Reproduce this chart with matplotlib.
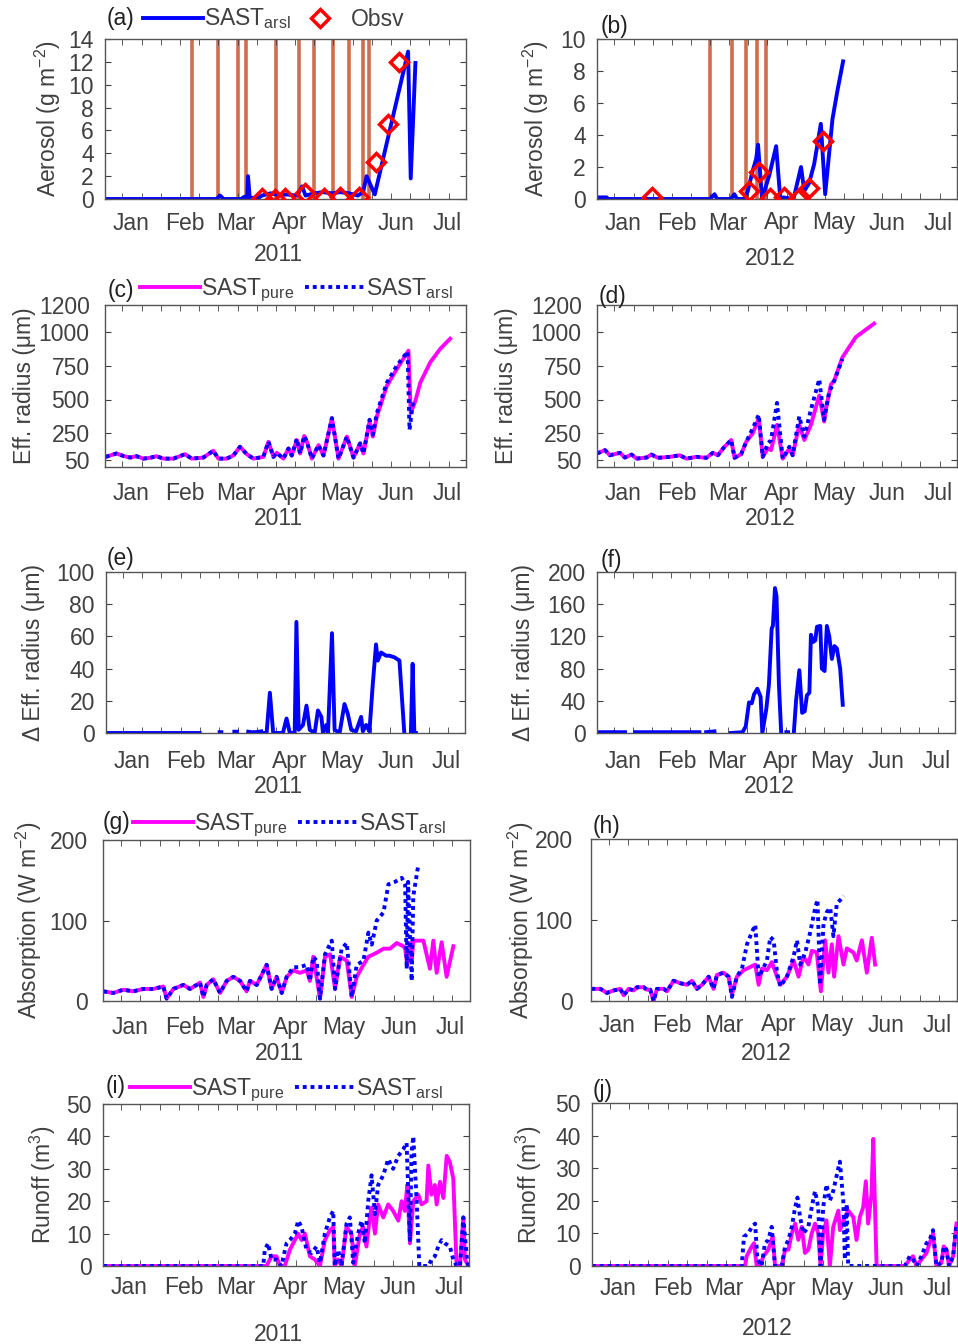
import numpy as np
import matplotlib
matplotlib.use('Agg')
import matplotlib.pyplot as plt

plt.rcParams['font.family'] = ['Liberation Sans', 'DejaVu Sans']
plt.rcParams['mathtext.fontset'] = 'custom'
plt.rcParams['mathtext.rm'] = 'Liberation Sans'
plt.rcParams['mathtext.default'] = 'regular'

nan = np.nan

# x axis is day of year (Jan 1 = 1)
months = ['Jan', 'Feb', 'Mar', 'Apr', 'May', 'Jun', 'Jul']
month_mid = [15, 46, 75, 106, 136, 167, 196]

# (a) aerosol 2011
a_arsl_day = [0, 60, 64, 66, 68, 78, 80, 81.5, 82, 83, 88, 90, 95, 100, 104, 110, 113, 115, 120, 125,
              130, 135, 140, 145, 148, 150, 154.7, 173.8, 175.3, 178]
a_arsl_val = [0, 0, 0, 0.3, 0, 0, 0.2, 0, 2.0, 0.1, 0.1, 0.3, 0.5, 0.3, 0.4, 0.3, 1.1, 0.3, 0.5, 0.6,
              0.5, 0.6, 0.5, 0.3, 0.6, 2.0, 0.4, 12.9, 1.8, 11.9]
a_obs_day = [89.8, 97.4, 103.1, 114.6, 125.5, 134.7, 145.7, 155.3, 162.3, 168.6]
a_obs_val = [0.1, 0.0, 0.1, 0.5, 0.1, 0.2, 0.2, 3.2, 6.6, 12.0]
a_event_day = [49.7, 64.9, 76.4, 80.6, 98.0, 111.3, 119.8, 130.8, 140.0, 148.0, 151.5]

# (b) aerosol 2012
b_arsl_day = [0, 5.5, 6.5, 65, 67.6, 69, 77, 79, 80.5, 84.8, 86.7, 89.6, 91.5, 92.6, 94.9, 99.1, 103,
              105.4, 107, 113, 117.3, 119.2, 122, 124.9, 128.7, 131.2, 135.4, 138.3, 141.5]
b_arsl_val = [0.1, 0.1, 0, 0, 0.3, 0, 0, 0.3, 0, 0, 0.5, 1.8, 2.5, 3.4, 0, 1.5, 3.3, 0, 0.1, 0,
              2.0, 0.5, 1.0, 2.2, 4.7, 0.3, 5.0, 6.8, 8.6]
b_obs_day = [31.7, 87.3, 93.4, 99.7, 107.7, 115.3, 122.0, 130.1]
b_obs_val = [0.1, 0.5, 1.7, 0.05, 0.1, 0.0, 0.7, 3.6]
b_event_day = [65.1, 77.5, 85.8, 91.9, 97.2]

# (c) effective radius 2011
c_pure_day = [0.4, 6.6, 10.5, 14.3, 18.1, 21.9, 25.8, 29.6, 33.4, 39.2, 45.9, 49.7, 56.4, 62.1, 65.0,
              69.8, 73.6, 77.4, 81.3, 85.1, 90.8, 93.7, 96.6, 98.5, 102.3, 105.2, 107.1, 110.0, 111.9,
              114.2, 115.7, 118.6, 122.4, 125.3, 130.1, 133.9, 138.7, 142.5, 146.3, 148.2, 151.7,
              153.6, 155.9, 161.6, 167.3, 174.0, 175.3, 177.9, 180.8, 186.5, 192.2, 197.9]
c_pure_val = [75, 100, 82, 70, 80, 62, 68, 80, 62, 62, 95, 62, 70, 120, 62, 62, 85, 150, 95, 62,
              75, 187, 75, 105, 62, 137, 85, 200, 100, 230, 190, 62, 162, 85, 362, 62, 225, 70, 175, 100,
              337, 225, 375, 600, 725, 862, 400, 487, 625, 775, 875, 950]
c_arsl_day = [0.4, 6.6, 10.5, 14.3, 18.1, 21.9, 25.8, 29.6, 33.4, 39.2, 45.9, 49.7, 56.4, 62.1, 65.0,
              69.8, 73.6, 77.4, 81.3, 85.1, 90.8, 93.7, 96.6, 98.5, 102.3, 105.2, 107.1, 110.0, 111.9,
              114.2, 115.7, 118.6, 122.4, 125.3, 130.1, 133.9, 138.7, 142.5, 146.3, 148.2, 151.7,
              153.6, 155.9, 161.6, 167.3, 173.5, 174.6, 176.8]
c_arsl_val = [75, 100, 82, 70, 80, 62, 68, 80, 62, 62, 95, 62, 70, 120, 62, 62, 85, 150, 95, 62,
              75, 187, 75, 105, 62, 137, 85, 210, 100, 230, 190, 62, 162, 85, 362, 62, 225, 70, 175, 100,
              350, 240, 400, 625, 750, 855, 275, 500]

# (d) effective radius 2012
d_pure_day = [0, 4.6, 7.4, 13.2, 16.0, 19.9, 22.7, 28.5, 31.3, 35.1, 41.8, 47.6, 51.4, 57.1, 62.9, 66.6,
              69.5, 73.3, 77.2, 79.1, 82.9, 85.8, 89.6, 93.0, 95.3, 98.2, 100.1, 103.5, 106.8, 110.6,
              112.5, 116.3, 119.2, 123.0, 127.8, 130.6, 131.6, 134.5, 136.4, 141.1, 148.8, 159.3]
d_pure_val = [100, 125, 87, 105, 70, 92, 62, 70, 92, 68, 75, 87, 62, 75, 68, 105, 87, 150, 200, 68,
              95, 187, 250, 362, 75, 137, 125, 312, 62, 137, 87, 312, 200, 312, 530, 337, 425, 612, 640,
              812, 962, 1062]
d_arsl_day = [0, 4.6, 7.4, 13.2, 16.0, 19.9, 22.7, 28.5, 31.3, 35.1, 41.8, 47.6, 51.4, 57.1, 62.9, 66.6,
              69.5, 73.3, 77.2, 79.1, 82.9, 85.8, 89.6, 93.0, 95.3, 98.2, 100.1, 103.5, 106.8, 110.6,
              112.5, 116.3, 119.2, 123.0, 127.8, 130.6, 133.4, 136.4, 141.1]
d_arsl_val = [100, 125, 87, 105, 70, 92, 62, 70, 92, 68, 75, 87, 62, 75, 68, 105, 87, 150, 200, 68,
              95, 187, 287, 387, 75, 175, 200, 475, 62, 150, 87, 375, 225, 425, 650, 350, 550, 637, 800]

# (e) delta effective radius 2011
e_arsl_day = [0, 54, nan, 65.5, 66.5, nan, 74, 75.5, nan, 82, 84, nan, 86, 89.5, nan, 90.5, 92.6, 94.5,
              96.4, 102, 104.1, 106.0, 108.8, 109.8, 111.1, 113.6, 115.6, 117.5, 120.3, 122.2, 124.2,
              125.1, 127.0, 128.0, 130.3, 131.8, 134.7, 137.5, 139.4, 141.4, 144.2, 147.1, 148.1, 150.0,
              151.9, 153.8, 155.7, 156.7, 158.6, 161.5, 163.4, 166.3, 169.2, 172.0, nan, 175.8, 176.8,
              177.8, 178.7]
e_arsl_val = [0, 0, nan, 0.5, 0.5, nan, 0.8, 0.8, nan, 0.8, 0.5, nan, 0.5, 1, nan, 0, 0, 25, 0, 0,
              9, 0, 0, 69, 2, 5, 17, 2, 0, 14, 10, 0, 5, 0, 62, 2, 0, 18, 12, 2,
              1, 10, 1, 5, 1, 30, 55, 45, 50, 48, 48, 47, 45, 0, nan, 0, 43, 0, 0]

# (f) delta effective radius 2012
f_arsl_day = [0, 8.6, nan, 10.5, 16.2, nan, 22.0, 59.2, nan, 63.1, 67.9, nan, 77.4, 84.1, 86.0, 87.9,
              89.5, 90.8, 92.7, 94.6, 95.6, 97.9, 99.4, 101.0, 101.7, 102.9, 103.8, 105.2, 106.5, nan,
              109.5, 110.5, nan, 113.8, 115.1, 117.0, 118.6, 120.1, 121.4, 122.8, 123.7, 124.9, 126.2,
              127.2, 129.1, 130.0, 131.6, 132.9, 134.3, 135.8, 137.3, 138.7, 140.6, 142.1]
f_arsl_val = [1, 1, nan, 1, 1, nan, 1, 1, nan, 1, 2, nan, 0, 1, 8, 38, 37, 48, 55, 45,
              0, 30, 60, 130, 133, 180, 170, 60, 0, nan, 1, 1, nan, 0, 40, 78, 25, 27, 47, 50,
              122, 113, 115, 132, 133, 80, 77, 133, 120, 92, 108, 105, 80, 35]

# (g) absorption 2011
g_pure_day = [0.2, 5.8, 11.5, 17.1, 22.7, 28.4, 34.0, 35.9, 39.7, 45.3, 49.1, 52.8, 54.7, 56.6, 58.5,
              62.2, 66.0, 69.8, 73.5, 77.3, 81.0, 82.9, 86.7, 92.3, 95.1, 97.9, 100.8, 103.6, 107.3,
              111.1, 114.9, 116.7, 118.6, 122.4, 125.2, 128.1, 130.9, 133.7, 137.5, 140.3, 143.1, 146.9,
              149.7, 154.4, 158.2, 161.9, 165.7, 169.4, 170.4, 171.7, 173.2, 174.1, 175.0, 176.0, 180.7,
              184.4, 186.3, 188.2, 191.0, 193.8, 197.6]
g_pure_val = [12, 10, 14, 12, 15, 15, 18, 3, 15, 20, 15, 20, 23, 5, 20, 27, 10, 25, 30, 25,
              12, 25, 20, 45, 15, 30, 10, 30, 38, 35, 38, 25, 55, 3, 55, 58, 15, 55, 50, 5,
              30, 45, 55, 60, 65, 65, 72, 68, 65, 45, 72, 50, 75, 75, 75, 40, 75, 35, 73, 30, 68]
g_arsl_day = [0.2, 5.8, 11.5, 17.1, 22.7, 28.4, 34.0, 35.9, 39.7, 45.3, 49.1, 52.8, 54.7, 56.6, 58.5,
              62.2, 66.0, 69.8, 73.5, 77.3, 81.0, 82.9, 86.7, 92.3, 95.1, 97.9, 100.8, 103.6, 107.3,
              111.1, 114.9, 116.7, 118.6, 120.5, 122.4, 125.2, 129.0, 130.9, 134.6, 137.5, 140.3, 143.1,
              146.9, 149.7, 151.6, 154.4, 158.2, 161.0, 164.7, 168.5, 170.4, 171.3, 172.1, 174.1, 175.0,
              177.9]
g_arsl_val = [12, 10, 14, 12, 15, 15, 18, 3, 15, 20, 15, 20, 23, 5, 20, 27, 10, 25, 30, 25,
              12, 25, 20, 45, 15, 30, 10, 30, 42, 42, 45, 25, 55, 50, 3, 58, 75, 15, 65, 72,
              5, 45, 50, 85, 70, 100, 110, 145, 148, 153, 145, 40, 148, 25, 130, 170]

# (h) absorption 2012
h_pure_day = [0.2, 5.3, 9.0, 12.8, 16.6, 18.5, 21.3, 24.1, 26.0, 29.8, 31.6, 33.5, 35.4, 37.3, 41.1,
              43.0, 46.7, 50.5, 54.3, 57.1, 59.9, 62.8, 66.5, 69.3, 71.2, 75.0, 77.8, 79.7, 82.5, 86.3,
              90.1, 92.9, 94.8, 96.7, 99.5, 102.3, 105.2, 107.1, 110.8, 114.6, 117.4, 120.2, 123.0,
              124.9, 127.7, 130.0, 132.4, 134.3, 136.2, 137.5, 140.0, 142.8, 144.7, 148.4, 150.3, 153.2,
              156.0, 158.8, 160.7]
h_pure_val = [15, 15, 10, 13, 15, 7, 15, 13, 17, 17, 14, 14, 0, 15, 15, 12, 25, 22, 20, 25,
              15, 20, 30, 15, 32, 35, 30, 8, 30, 38, 42, 45, 20, 40, 38, 48, 30, 20, 30, 50,
              30, 55, 45, 62, 60, 12, 75, 35, 70, 30, 80, 45, 65, 60, 50, 75, 35, 78, 45]
h_arsl_day = [0.2, 5.3, 9.0, 12.8, 16.6, 18.5, 21.3, 24.1, 26.0, 29.8, 31.6, 33.5, 35.4, 37.3, 41.1,
              43.0, 46.7, 50.5, 54.3, 57.1, 59.9, 62.8, 66.5, 69.3, 71.2, 75.0, 77.8, 79.7, 82.5, 85.4,
              88.2, 91.0, 92.9, 94.8, 96.7, 99.5, 101.4, 103.3, 105.2, 107.1, 110.8, 114.6, 116.5, 118.3,
              121.2, 124.0, 126.8, 128.1, 129.6, 131.5, 133.4, 135.3, 137.1, 139.0, 141.9, 142.8]
h_arsl_val = [15, 15, 10, 13, 15, 7, 15, 13, 17, 17, 14, 14, 0, 15, 15, 12, 25, 22, 20, 25,
              15, 20, 30, 15, 32, 35, 30, 5, 30, 40, 70, 85, 94, 30, 37, 50, 79, 75, 35, 18,
              30, 55, 75, 45, 60, 85, 115, 125, 20, 95, 110, 115, 80, 120, 127, 130]

# (i) runoff 2011
i_pure_day = [0.1, 92.5, 95.3, 98.1, 100.0, 102.8, 105.7, 108.5, 110.4, 112.3, 114.2, 117.0, 119.8,
              122.7, 125.5, 128.3, 130.2, 131.1, 133.0, 134.9, 137.7, 140.5, 142.4, 145.3, 147.1, 149.0,
              150.9, 151.9, 153.8, 155.6, 158.5, 161.3, 164.1, 167.0, 168.9, 170.7, 172.1, 173.6, 175.5,
              178.3, 180.2, 183.0, 184.0, 185.8, 187.7, 188.7, 190.6, 192.5, 194.4, 196.2, 198.1, 200.0,
              201.9, 203.8, 204.7, 206.6]
i_pure_val = [0, 0, 3, 3, 0, 0, 5, 8, 10, 8, 10, 3, 2, 0, 8, 11, 12, 0, 2, 0,
              12, 10, 0, 10, 12, 6, 15, 18, 10, 19, 15, 19, 17, 14, 20, 17, 25, 7, 20, 22,
              19, 20, 31, 22, 25, 19, 26, 21, 34, 32, 27, 0, 0, 15, 2, 0]
i_arsl_day = [0.1, 90.6, 91.5, 93.4, 95.3, 98.1, 100.9, 103.8, 105.7, 108.5, 110.4, 112.3, 115.1, 117.9,
              120.8, 122.7, 125.5, 128.3, 130.2, 131.1, 133.0, 134.9, 137.7, 139.6, 141.5, 144.3, 146.2,
              148.1, 150.0, 151.9, 153.8, 155.6, 158.5, 161.3, 164.1, 167.0, 169.8, 171.7, 173.6, 174.5,
              175.5, 177.4, 178.9, 181.1, 184.0, 185.8, 187.7, 189.6, 191.5, 193.4, 196.2, 198.1, 200.0,
              201.9, 203.8, 205.7, 206.6]
i_arsl_val = [0, 0, 5, 7, 2, 2, 0, 7, 8, 10, 14, 12, 5, 4, 6, 1, 10, 15, 17, 0,
              5, 0, 13, 15, 1, 10, 14, 7, 20, 28, 16, 25, 28, 33, 30, 34, 36, 38, 8, 35,
              40, 20, 0, 0, 0, 2, 3, 6, 8, 7, 6, 2, 0, 0, 15, 3, 0]

# (j) runoff 2012
j_pure_day = [0, 86.8, 87.7, 90.6, 91.9, 93.4, 95.3, 97.2, 100.0, 102.5, 103.8, 107.6, 109.5, 111.4,
              113.3, 115.2, 117.0, 118.9, 120.8, 122.7, 124.6, 126.5, 128.3, 129.6, 131.1, 133.0, 134.9,
              136.8, 139.7, 140.6, 143.4, 145.3, 148.2, 150.0, 151.9, 153.8, 155.3, 156.6, 158.5, 159.5,
              160.4, 161.4, 163.2, 177.4, 180.2, 182.1, 184.0, 186.8, 189.7, 191.5, 193.4, 195.3, 198.2,
              199.5, 201.0, 202.5, 204.8, 206.7]
j_pure_val = [0, 0, 3, 6, 7, 0, 0, 3, 5, 9, 0, 0, 5, 5, 10, 13, 8, 12, 4, 5,
              10, 13, 10, 0, 10, 14, 0, 12, 17, 11, 15, 17, 15, 8, 15, 18, 26, 13, 22, 39,
              20, 0, 0, 0, 2, 3, 0, 2, 4, 7, 10, 0, 1, 6, 5, 0, 3, 13]
j_arsl_day = [0, 84.9, 86.2, 88.7, 90.6, 92.5, 93.8, 96.2, 98.1, 100.0, 101.9, 103.8, 107.6, 109.5,
              111.4, 113.3, 115.2, 116.5, 118.0, 119.9, 122.7, 124.6, 126.5, 128.3, 129.6, 131.1, 133.0,
              134.9, 136.8, 139.7, 140.6, 142.5, 143.4, 144.4, 145.3, 146.3, 177.4, 180.2, 182.1, 184.0,
              186.8, 189.7, 191.5, 193.4, 195.3, 198.2, 199.5, 201.0, 202.5, 204.8, 206.7]
j_arsl_val = [0, 0, 9, 10, 12, 13, 2, 0, 7, 8, 12, 0, 0, 6, 8, 12, 18, 21, 15, 10,
              12, 18, 23, 18, 0, 18, 25, 20, 23, 30, 32, 20, 2, 19, 0, 0, 0, 3, 2, 0,
              3, 7, 8, 11, 0, 1, 6, 5, 0, 3, 13]

BLUE = '#0000ff'
PINK = '#ff00ff'
RED = '#ff0000'
EVENT = '#cd6e51'
GREY = '#404040'
LW = 2.8
DOT = (0, (1, 1))
FS = 16.5

W, H = 958, 1344
fig = plt.figure(figsize=(W / 100, H / 100), dpi=100)


def make_axes(l, r, t, b):
    return fig.add_axes([l / W, 1 - b / H, (r - l) / W, (b - t) / H])


def style(ax, ylim, yticks, ylabel, ylab_x, year, year_y, pad, ypad=8):
    ax.set_xlim(0, 207)
    ax.set_ylim(*ylim)
    ax.set_yticks(yticks)
    ax.set_xticks(month_mid)
    ax.set_xticklabels(months)
    ax.set_xticks(np.arange(10, 207, 11), minor=True)
    ax.tick_params(axis='x', which='major', length=0, pad=pad, labelsize=FS, colors=GREY)
    ax.tick_params(axis='x', which='minor', direction='in', length=4, top=True, color=GREY)
    ax.tick_params(axis='y', direction='in', length=4, right=True, labelsize=FS, colors=GREY, pad=ypad)
    for s in ax.spines.values():
        s.set_color('#555555')
        s.set_linewidth(1.0)
    ax.set_ylabel(ylabel, fontsize=FS, color=GREY)
    ax.yaxis.set_label_coords(ylab_x, 0.5)
    ax.set_xlabel(year, fontsize=FS, color=GREY)
    ax.xaxis.set_label_coords(0.48, year_y)


def letter(txt, x, y):
    fig.text(x / W, 1 - y / H, txt, ha='center', va='center', fontsize=FS, color='#202020')


def legend(ax, x, y, colsp=0.5):
    ax.legend(ncol=2, loc='center left', bbox_to_anchor=(x / W, 1 - y / H),
              bbox_transform=fig.transFigure, frameon=False, fontsize=FS,
              handlelength=2.6, handletextpad=0.05, columnspacing=colsp,
              borderpad=0, borderaxespad=0, labelcolor=GREY)


SUB_A = 'SAST$_{arsl}$'
SUB_P = 'SAST$_{pure}$'

# (a)
ax = make_axes(105, 466, 39, 199)
ax.vlines(a_event_day, 0, 14, color=EVENT, lw=2.6, zorder=1)
ax.plot(a_arsl_day, a_arsl_val, color=BLUE, lw=LW, label=SUB_A, zorder=2)
ax.plot(a_obs_day, a_obs_val, 'D', mfc='none', mec=RED, mew=2.5, ms=9.5, label='Obsv', zorder=3)
style(ax, (0, 14), range(0, 15, 2), 'Aerosol (g m$^{-2}$)', -0.117, '2011', -0.275, 9)
legend(ax, 143, 19, colsp=0.0)
letter('(a)', 121, 19)

# (b)
ax = make_axes(597, 957, 39, 199)
ax.vlines(b_event_day, 0, 10, color=EVENT, lw=2.6, zorder=1)
ax.plot(b_arsl_day, b_arsl_val, color=BLUE, lw=LW, zorder=2)
ax.plot(b_obs_day, b_obs_val, 'D', mfc='none', mec=RED, mew=2.5, ms=9.5, zorder=3)
style(ax, (0, 10), range(0, 11, 2), 'Aerosol (g m$^{-2}$)', -0.128, '2012', -0.30, 9)
letter('(b)', 614, 27)

# (c)
ax = make_axes(105, 466, 305, 467)
ax.plot(c_pure_day, c_pure_val, color=PINK, lw=LW, label=SUB_P)
ax.plot(c_arsl_day, c_arsl_val, color=BLUE, lw=LW, ls=DOT, label=SUB_A)
style(ax, (0, 1200), [50, 250, 500, 750, 1000, 1200], 'Eff. radius (μm)', -0.191, '2011', -0.247, 11, 11)
legend(ax, 140, 290)
letter('(c)', 121, 290)

# (d)
ax = make_axes(597, 957, 305, 467)
ax.plot(d_pure_day, d_pure_val, color=PINK, lw=LW)
ax.plot(d_arsl_day, d_arsl_val, color=BLUE, lw=LW, ls=DOT)
style(ax, (0, 1200), [50, 250, 500, 750, 1000, 1200], 'Eff. radius (μm)', -0.219, '2012', -0.247, 11, 11)
letter('(d)', 613, 296)

# (e)
ax = make_axes(106, 465, 572, 733)
ax.plot(e_arsl_day, e_arsl_val, color=BLUE, lw=LW)
style(ax, (0, 100), range(0, 101, 20), 'Δ Eff. radius (μm)', -0.171, '2011', -0.26, 12)
letter('(e)', 121, 558)

# (f)
ax = make_axes(597, 955, 572, 733)
ax.plot(f_arsl_day, f_arsl_val, color=BLUE, lw=LW)
style(ax, (0, 200), range(0, 201, 40), 'Δ Eff. radius (μm)', -0.174, '2012', -0.26, 12)
letter('(f)', 611, 560)

# (g)
ax = make_axes(103, 470, 840, 1001)
ax.plot(g_pure_day, g_pure_val, color=PINK, lw=LW, label=SUB_P)
ax.plot(g_arsl_day, g_arsl_val, color=BLUE, lw=LW, ls=DOT, label=SUB_A)
style(ax, (0, 200), [0, 100, 200], 'Absorption (W m$^{-2}$)', -0.161, '2011', -0.255, 11, 11)
legend(ax, 133, 825)
letter('(g)', 117, 822)

# (h)
ax = make_axes(591, 957, 839, 1001)
ax.plot(h_pure_day, h_pure_val, color=PINK, lw=LW)
ax.plot(h_arsl_day, h_arsl_val, color=BLUE, lw=LW, ls=DOT)
style(ax, (0, 200), [0, 100, 200], 'Absorption (W m$^{-2}$)', -0.15, '2012', -0.255, 9, 13)
letter('(h)', 607, 826)

# (i)
ax = make_axes(103, 469, 1104, 1266)
ax.plot(i_pure_day, i_pure_val, color=PINK, lw=LW, label=SUB_P)
ax.plot(i_arsl_day, i_arsl_val, color=BLUE, lw=LW, ls=DOT, label=SUB_A)
style(ax, (0, 50), range(0, 51, 10), 'Runoff (m$^{3}$)', -0.123, '2011', -0.352, 7)
legend(ax, 130, 1090)
letter('(i)', 116, 1087)

# (j)
ax = make_axes(592, 957, 1103, 1266)
ax.plot(j_pure_day, j_pure_val, color=PINK, lw=LW)
ax.plot(j_arsl_day, j_arsl_val, color=BLUE, lw=LW, ls=DOT)
style(ax, (0, 50), range(0, 51, 10), 'Runoff (m$^{3}$)', -0.131, '2012', -0.313, 8)
letter('(j)', 603, 1090)

fig.savefig('out.png', dpi=100)
